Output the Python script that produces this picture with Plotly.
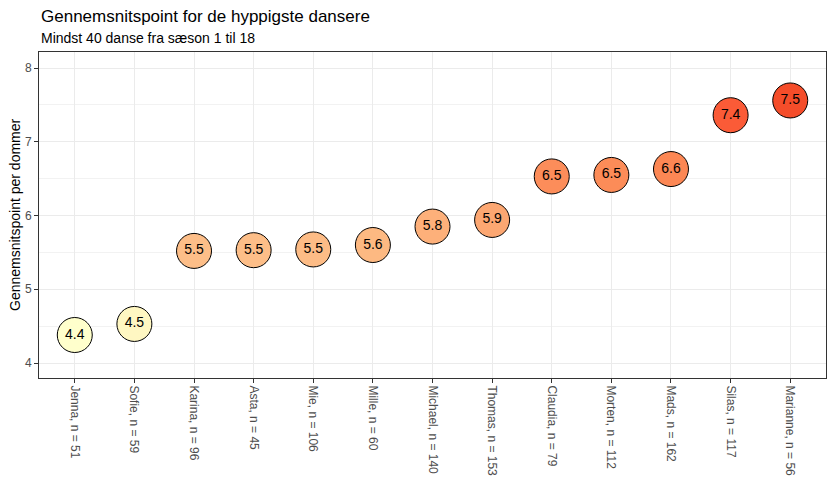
import plotly.graph_objects as go

dancers = ["Jenna", "Sofie", "Karina", "Asta", "Mie", "Mille", "Michael",
           "Thomas", "Claudia", "Morten", "Mads", "Silas", "Marianne"]
n_dances = [51, 59, 96, 45, 106, 60, 140, 153, 79, 112, 162, 117, 56]
avg_points = [4.38, 4.53, 5.52, 5.53, 5.54, 5.60, 5.85, 5.94, 6.53, 6.55, 6.63, 7.36, 7.56]
value_labels = ["4.4", "4.5", "5.5", "5.5", "5.5", "5.6", "5.8", "5.9", "6.5", "6.5", "6.6", "7.4", "7.5"]

fill_colors = ["#FFFFCC", "#FFF7C2", "#FDBE88", "#FDBE88", "#FDBC86", "#FDB982",
               "#FDB07A", "#FCA772", "#FC8D5A", "#FC8C58", "#FC8754", "#FB5B37", "#F54D2A"]

tick_labels = [f"{d}, n = {n}" for d, n in zip(dancers, n_dances)]

FONT = "Liberation Sans, Arial, sans-serif"

fig = go.Figure()
fig.add_trace(go.Scatter(
    x=tick_labels, y=avg_points, mode="markers+text",
    text=value_labels, textposition="middle center",
    textfont=dict(size=14, color="#000000", family=FONT),
    marker=dict(size=35, color=fill_colors, line=dict(color="#000000", width=1)),
    showlegend=False, hoverinfo="skip",
))

# page body has an 8px default margin, compensate for it
fig.update_layout(
    width=831, height=474,
    margin=dict(l=31, r=13, t=44, b=104, autoexpand=False),
    paper_bgcolor="white", plot_bgcolor="white",
    font=dict(family=FONT, color="#000000"),
    showlegend=False,
    annotations=[
        dict(text="Gennemsnitspoint for de hyppigste dansere", xref="paper", yref="paper",
             x=0, y=1, yshift=36, xanchor="left", yanchor="middle",
             showarrow=False, font=dict(size=17, color="#000000", family=FONT)),
        dict(text="Mindst 40 danse fra sæson 1 til 18", xref="paper", yref="paper",
             x=0, y=1, yshift=14, xanchor="left", yanchor="middle",
             showarrow=False, font=dict(size=14, color="#000000", family=FONT)),
        dict(text="Gennemsnitspoint per dommer", xref="paper", yref="paper",
             x=0, y=0.5, xshift=-24, xanchor="center", yanchor="middle", textangle=-90,
             showarrow=False, font=dict(size=14, color="#000000", family=FONT)),
    ],
)

fig.update_xaxes(
    type="category", range=[-0.6, 12.6], tickangle=90, automargin=False,
    tickfont=dict(size=12, color="#4D4D4D", family=FONT),
    ticks="outside", ticklen=4, tickcolor="#333333",
    showgrid=True, gridcolor="#EBEBEB", gridwidth=1,
    showline=True, linecolor="#333333", linewidth=1, mirror=True,
    zeroline=False,
)
fig.update_yaxes(
    range=[3.797, 8.217], tickvals=[4, 5, 6, 7, 8], automargin=False,
    tickfont=dict(size=12, color="#4D4D4D", family=FONT),
    ticks="outside", ticklen=4, tickcolor="#333333",
    showgrid=True, gridcolor="#EBEBEB", gridwidth=1,
    minor=dict(tickvals=[4.5, 5.5, 6.5, 7.5], showgrid=True, gridcolor="#F2F2F2", gridwidth=0.6, ticks=""),
    showline=True, linecolor="#333333", linewidth=1, mirror=True,
    zeroline=False,
)

fig.write_html("out.html")
